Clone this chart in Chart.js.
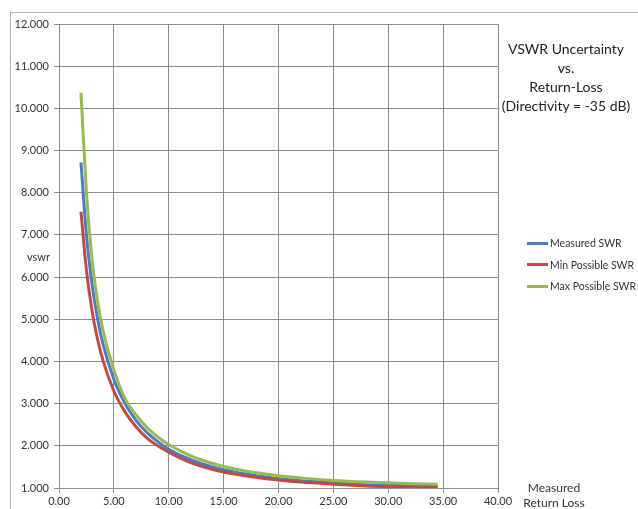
<!DOCTYPE html>
<html>
<head>
<meta charset="utf-8">
<script src="https://cdn.jsdelivr.net/npm/chart.js@4"></script>
<style>
    body { margin: 0; background: #fff; overflow: hidden; font-family: Lato, sans-serif; color: #333; }
    #wrap { position: relative; width: 638px; height: 509px; }
    #frame { position: absolute; left: 10px; top: 12px; width: 700px; height: 600px;
             border-top: 1px solid #b4b4b4; border-left: 1px solid #b4b4b4; }
    canvas { position: absolute; left: 0; top: 0; }
    .txt { position: absolute; white-space: nowrap; }
    #title { left: 496px; top: 39px; width: 140px; text-align: center; font-size: 14px; line-height: 19px; color: #222; }
    #yTitle { left: 27px; top: 250px; font-size: 11px; }
    #xTitle { left: 514px; top: 480px; width: 80px; text-align: center; font-size: 12px; line-height: 15px; }
    #legend { left: 527px; top: 233px; font-size: 10.5px; line-height: 21.5px; }
    #legend span.ln { display: inline-block; width: 21px; height: 3px; vertical-align: middle; margin-right: 2px; position: relative; top: -1px; }
</style>
</head>
<body>
<div id="wrap">
    <div id="frame"></div>
    <canvas id="swrChart" width="638" height="509"></canvas>
    <div class="txt" id="title">VSWR Uncertainty<br>vs.<br>Return-Loss<br>(Directivity = -35 dB)</div>
    <div class="txt" id="yTitle">vswr</div>
    <div class="txt" id="xTitle">Measured<br>Return Loss</div>
    <div class="txt" id="legend"></div>
</div>
<script>
// Measured return loss (dB)
const returnLoss = [2, 2.5, 3, 3.5, 4, 5, 6, 7, 8, 9, 10, 12, 14, 16, 18, 20, 22, 25, 28, 31, 34.5];

// SWR series
const measuredSwr = [8.72, 7.00, 5.85, 5.03, 4.42, 3.57, 3.01, 2.61, 2.32, 2.10, 1.92, 1.67, 1.50, 1.38, 1.29, 1.22, 1.17, 1.12, 1.08, 1.06, 1.04];
const minSwr = [7.55, 6.17, 5.22, 4.54, 4.03, 3.30, 2.81, 2.46, 2.19, 2.00, 1.85, 1.60, 1.44, 1.33, 1.25, 1.19, 1.14, 1.09, 1.05, 1.03, 1.02];
const maxSwr = [10.37, 8.00, 6.45, 5.45, 4.75, 3.80, 3.13, 2.74, 2.44, 2.21, 2.03, 1.76, 1.58, 1.45, 1.36, 1.29, 1.24, 1.18, 1.14, 1.11, 1.09];

const seriesNames = ['Measured SWR', 'Min Possible SWR', 'Max Possible SWR'];
const seriesColors = ['#4A7EBB', '#BE4B48', '#98B954'];

// Axis ranges
const xMin = 0, xMax = 40, xStep = 5;
const yMin = 1, yMax = 12, yStep = 1;

function toPoints(values) {
    return values.map((v, i) => ({ x: returnLoss[i], y: v }));
}

const allSeries = [measuredSwr, minSwr, maxSwr];

const datasets = allSeries.map((values, i) => ({
    label: seriesNames[i],
    data: toPoints(values),
    borderColor: seriesColors[i],
    backgroundColor: seriesColors[i],
    borderWidth: 3,
    pointRadius: 0,
    fill: false,
    cubicInterpolationMode: 'monotone',
    order: 3 - i
}));

// Legend built from the series names
const legendEl = document.getElementById('legend');
legendEl.innerHTML = seriesNames.map((name, i) =>
    `<div><span class="ln" style="background:${seriesColors[i]}"></span>${name}</div>`
).join('');

const ctx = document.getElementById('swrChart');
const swrChart = new Chart(ctx, {
    type: 'line',
    data: { datasets: datasets },
    options: {
        responsive: false,
        animation: false,
        layout: {
            padding: { left: 0, top: 24, right: 140, bottom: 0 }
        },
        plugins: {
            legend: { display: false },
            tooltip: { enabled: false }
        },
        scales: {
            x: {
                type: 'linear',
                min: xMin,
                max: xMax,
                afterFit: function(scale) { scale.height = 21; },
                grid: { color: '#8c8c8c', tickLength: 5 },
                border: { color: '#8c8c8c' },
                ticks: {
                    stepSize: xStep,
                    padding: 2,
                    color: '#333',
                    font: { family: 'Lato', size: 11 },
                    maxRotation: 0,
                    callback: function(value) { return value.toFixed(2); }
                }
            },
            y: {
                min: yMin,
                max: yMax,
                afterFit: function(scale) { scale.width = 59; },
                grid: { color: '#8c8c8c', tickLength: 5 },
                border: { color: '#8c8c8c' },
                ticks: {
                    stepSize: yStep,
                    padding: 5,
                    color: '#333',
                    font: { family: 'Lato', size: 11 },
                    callback: function(value) { return value.toFixed(3); }
                }
            }
        }
    }
});
</script>
</body>
</html>
